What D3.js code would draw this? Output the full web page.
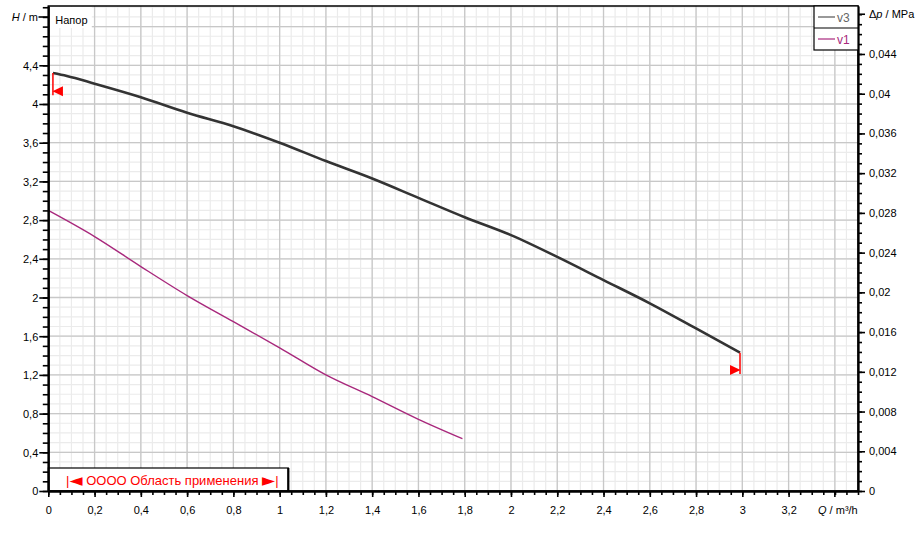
<!DOCTYPE html>
<html><head><meta charset="utf-8">
<script src="https://cdn.jsdelivr.net/npm/d3@7"></script>
<style>
html,body{margin:0;padding:0;background:#fff;}
svg{display:block;font-family:"Liberation Sans",Arial,sans-serif;}
</style></head>
<body><svg id="c" width="923" height="533"></svg>
<script>
// ---- data ----
const v3Q = [0.02, 0.08, 0.2, 0.4, 0.6, 0.8, 1.0, 1.2, 1.4, 1.6, 1.8, 2.0, 2.2, 2.4, 2.6, 2.8, 2.99];
const v3H = [4.32, 4.29, 4.21, 4.07, 3.91, 3.77, 3.60, 3.41, 3.23, 3.03, 2.83, 2.645, 2.42, 2.18, 1.94, 1.68, 1.43];
const v1Q = [0, 0.2, 0.4, 0.6, 0.8, 1.0, 1.2, 1.4, 1.6, 1.79];
const v1H = [2.90, 2.63, 2.32, 2.02, 1.75, 1.48, 1.20, 0.975, 0.74, 0.54];
const seriesNames = ["v3", "v1"];
const xTickValues = [0,0.2,0.4,0.6,0.8,1,1.2,1.4,1.6,1.8,2,2.2,2.4,2.6,2.8,3,3.2];
const yTickValues = [0,0.4,0.8,1.2,1.6,2,2.4,2.8,3.2,3.6,4,4.4];
const y2TickValues = [0,0.004,0.008,0.012,0.016,0.02,0.024,0.028,0.032,0.036,0.04,0.044];
const xUnit = "m³/h", yUnit = "m", y2Unit = "MPa";
const chartTitle = "Напор";
const rangeParts = ["|", "◄", " OOOO Область применения ", "►", "|"];
// application range markers (Q, H top, H bottom, direction)
const markQ = [0.02, 2.99];
const markHTop = [4.32, 1.43];
const markHBot = [4.09, 1.21];
const markDir = [-1, 1];

// ---- layout ----
const L = 48.3, R = 858, T = 6, B = 491;
const svg = d3.select("#c");
const x = d3.scaleLinear().domain([0, 3.5]).range([L, R]);
const y = d3.scaleLinear().domain([0, 5.0129]).range([B, T]);
const y2 = d3.scaleLinear().domain([0, 0.04883]).range([B, T]);
const loc = d3.formatLocale({decimal: ",", thousands: " ", grouping: [3], currency: ["", ""]});
const fmt = loc.format("~g");

// grid
const g = svg.append("g");
const minorX = d3.range(0, 71).map(i => +(i * 0.05).toFixed(2)).filter(v => v <= 3.5);
const minorY = d3.range(0, 51).map(i => +(i * 0.1).toFixed(2));
g.selectAll(".mx").data(minorX).enter().append("line")
  .attr("x1", d => x(d)).attr("x2", d => x(d)).attr("y1", T).attr("y2", B)
  .attr("stroke", "#ebebeb").attr("stroke-width", 1.2);
g.selectAll(".my").data(minorY).enter().append("line")
  .attr("y1", d => y(d)).attr("y2", d => y(d)).attr("x1", L).attr("x2", R)
  .attr("stroke", "#ebebeb").attr("stroke-width", 1.2);
const majorX = d3.range(0, 18).map(i => +(i * 0.2).toFixed(2));
const majorY = d3.range(0, 13).map(i => +(i * 0.4).toFixed(2));
g.selectAll(".Mx").data(majorX).enter().append("line")
  .attr("x1", d => x(d)).attr("x2", d => x(d)).attr("y1", T).attr("y2", B)
  .attr("stroke", "#c8c8c8").attr("stroke-width", 1.3);
g.selectAll(".My").data(majorY).enter().append("line")
  .attr("y1", d => y(d)).attr("y2", d => y(d)).attr("x1", L).attr("x2", R)
  .attr("stroke", "#c8c8c8").attr("stroke-width", 1.3);

// title box
svg.append("rect").attr("x", L + 1.5).attr("y", T + 1).attr("width", 42).attr("height", 21).attr("fill", "#fff");
svg.append("text").attr("x", L + 7).attr("y", 24).attr("font-size", 11).attr("fill", "#000").text(chartTitle);

// curves
const line = d3.line().x(d => x(d[0])).y(d => y(d[1])).curve(d3.curveMonotoneX);
svg.append("path").datum(v1Q.map((q, i) => [q, v1H[i]]))
  .attr("d", line).attr("fill", "none").attr("stroke", "#a8287c").attr("stroke-width", 1.4);
svg.append("path").datum(v3Q.map((q, i) => [q, v3H[i]]))
  .attr("d", line).attr("fill", "none").attr("stroke", "#333").attr("stroke-width", 2.6);

// application markers
markQ.forEach((q, i) => {
  const mx = x(q), yt = y(markHTop[i]), yb = y(markHBot[i]);
  svg.append("line").attr("x1", mx).attr("x2", mx).attr("y1", yt).attr("y2", yb)
    .attr("stroke", "#f00").attr("stroke-width", 1.5);
  const ty = yb - 4, d = markDir[i];
  svg.append("path")
    .attr("d", `M${mx + d * 0.5},${ty} L${mx - d * 10},${ty - 5} L${mx - d * 10},${ty + 5} Z`)
    .attr("fill", "#f00");
});

// bottom-left range legend box
const bx = L, bw = 240, by = 468, bh = B - 468;
svg.append("rect").attr("x", bx).attr("y", by).attr("width", bw).attr("height", bh)
  .attr("fill", "#fff").attr("stroke", "#000").attr("stroke-width", 1.2);
svg.append("line").attr("x1", bx + bw).attr("x2", bx + bw).attr("y1", by).attr("y2", B)
  .attr("stroke", "#000").attr("stroke-width", 2.2);
const rt = svg.append("text").attr("x", bx + bw / 2 + 4).attr("y", by + 16.5).attr("text-anchor", "middle")
  .attr("font-size", 13).attr("fill", "#f00");
rangeParts.forEach((p, i) => {
  const ts = rt.append("tspan").text(p);
  if (p === "◄" || p === "►") ts.attr("font-family", "'DejaVu Sans',sans-serif").attr("font-size", 17).attr("dy", i === 1 ? 1.5 : 1.5);
  else if (i > 0) ts.attr("dy", -1.5);
});

// frame
svg.append("rect").attr("x", L).attr("y", T).attr("width", R - L).attr("height", B - T)
  .attr("fill", "none").attr("stroke", "#000").attr("stroke-width", 1.5);

// axes
const xAxisG = svg.append("g").attr("transform", `translate(0,${B})`)
  .call(d3.axisBottom(x).tickValues(xTickValues).tickFormat(fmt).tickSize(6).tickSizeOuter(0).tickPadding(9));
const xMinor = svg.append("g").attr("transform", `translate(0,${B})`)
  .call(d3.axisBottom(x).tickValues(minorX.concat([3.4])).tickFormat("").tickSize(4).tickSizeOuter(0));
const yAxisG = svg.append("g").attr("transform", `translate(${L},0)`)
  .call(d3.axisLeft(y).tickValues(yTickValues).tickFormat(fmt).tickSize(9).tickSizeOuter(0).tickPadding(1));
const yMinor = svg.append("g").attr("transform", `translate(${L},0)`)
  .call(d3.axisLeft(y).tickValues(minorY).tickFormat("").tickSize(5.5).tickSizeOuter(0));
const y2Minor = d3.range(0, 49).map(i => +(i * 0.001).toFixed(3));
const y2AxisG = svg.append("g").attr("transform", `translate(${R},0)`)
  .call(d3.axisRight(y2).tickValues(y2TickValues).tickFormat(fmt).tickSize(7).tickSizeOuter(0).tickPadding(4));
const y2MinorG = svg.append("g").attr("transform", `translate(${R},0)`)
  .call(d3.axisRight(y2).tickValues(y2Minor).tickFormat("").tickSize(4).tickSizeOuter(0));
[xAxisG, xMinor, yAxisG, yMinor, y2AxisG, y2MinorG].forEach(a => {
  a.select(".domain").attr("stroke", "#000").attr("stroke-width", 1.8);
  a.selectAll(".tick line").attr("stroke", "#000").attr("stroke-width", 1.6);
  a.selectAll("text").attr("font-size", 11).attr("fill", "#000")
    .attr("font-family", "'Liberation Sans',Arial,sans-serif");
});
yAxisG.selectAll("text").attr("dy", "0.35em");

// unit labels
const yt = svg.append("text").attr("x", 38).attr("y", 21).attr("text-anchor", "end").attr("font-size", 11);
yt.append("tspan").attr("font-style", "italic").text("H");
yt.append("tspan").text(" / " + yUnit);
svg.append("line").attr("x1", 38.5).attr("x2", L).attr("y1", 17).attr("y2", 17).attr("stroke", "#000").attr("stroke-width", 1.6);
const y2t = svg.append("text").attr("x", 869).attr("y", y2(0.048) + 4).attr("font-size", 11);
y2t.append("tspan").text("Δ");
y2t.append("tspan").attr("font-style", "italic").text("p");
y2t.append("tspan").text(" / " + y2Unit);
svg.append("line").attr("x1", R).attr("x2", R + 7).attr("y1", y2(0.048)).attr("y2", y2(0.048)).attr("stroke", "#000").attr("stroke-width", 1.6);
const xt = svg.append("text").attr("x", x(3.4) + 3).attr("y", 514).attr("text-anchor", "middle").attr("font-size", 11);
xt.append("tspan").attr("font-style", "italic").text("Q");
xt.append("tspan").text(" / " + xUnit);
svg.append("line").attr("x1", x(3.4)).attr("x2", x(3.4)).attr("y1", B).attr("y2", B + 6).attr("stroke", "#000").attr("stroke-width", 1.6);

// series legend (top right)
const lgX = 814, lgW = R - lgX, rowH = 22;
const lgColors = ["#555", "#a8287c"];
const lgText = ["#666", "#a8287c"];
svg.append("rect").attr("x", lgX).attr("y", T).attr("width", lgW).attr("height", rowH * 2)
  .attr("fill", "#fff").attr("stroke", "#000").attr("stroke-width", 1.2);
svg.append("line").attr("x1", lgX).attr("x2", R).attr("y1", T + rowH).attr("y2", T + rowH)
  .attr("stroke", "#000").attr("stroke-width", 1.2);
seriesNames.forEach((n, i) => {
  const cy = T + rowH * i + 11;
  svg.append("line").attr("x1", lgX + 4).attr("x2", lgX + 21).attr("y1", cy).attr("y2", cy)
    .attr("stroke", lgColors[i]).attr("stroke-width", 1.2);
  svg.append("text").attr("x", lgX + 23).attr("y", cy + 4.5).attr("font-size", 12)
    .attr("fill", lgText[i]).text(n);
});
</script></body></html>
